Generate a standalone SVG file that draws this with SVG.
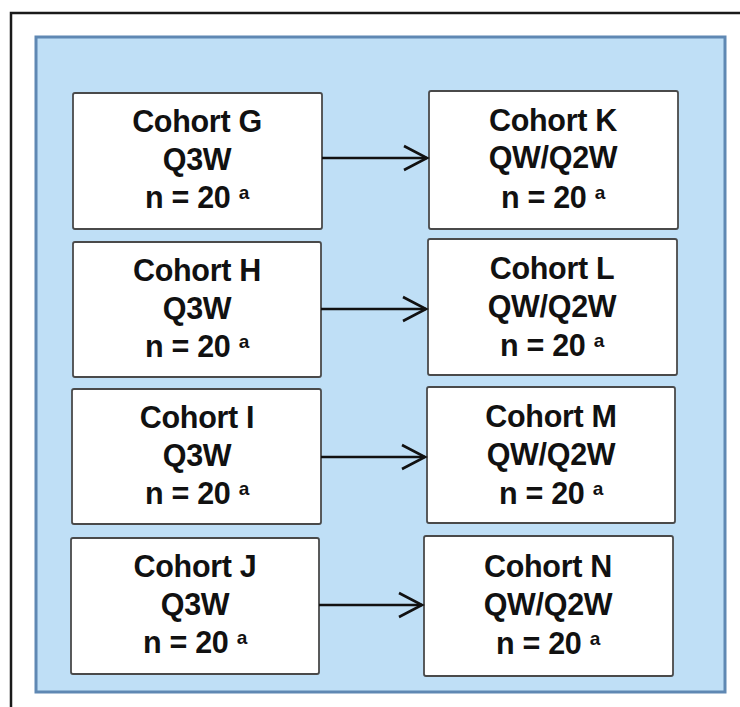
<svg xmlns="http://www.w3.org/2000/svg" width="740" height="707" viewBox="0 0 740 707">
  <style>
    .frame { fill: none; stroke: #1a1a1a; stroke-width: 2.5; }
    .panel { fill: #bfdff6; stroke: #5f88b3; stroke-width: 3; }
    .box { fill: #ffffff; stroke: #4a4a4a; stroke-width: 1.8; }
    .lbl { font-family: "Liberation Sans", Arial, sans-serif; font-weight: bold; font-size: 30.5px; fill: #111; text-anchor: middle; letter-spacing: -0.3px; }
    .sup { font-size: 19px; }
    .conn line, .conn path { fill: none; stroke: #111; stroke-width: 2.6; }
  </style>

  <!-- outer frame (top and left edges visible) -->
  <path class="frame" d="M11,707 L11,13 L740,13"/>

  <!-- light blue panel -->
  <rect class="panel" x="36" y="37" width="689" height="655"/>

  <!-- left column: Q3W cohorts -->
  <g id="cohort-g">
    <rect class="box" x="73" y="93" width="249" height="136" rx="2"/>
    <text class="lbl" x="197" y="132">Cohort G</text>
    <text class="lbl" x="197" y="170">Q3W</text>
    <text class="lbl" x="197" y="208">n = 20 <tspan class="sup" dy="-9">a</tspan></text>
  </g>
  <g id="cohort-h">
    <rect class="box" x="73" y="242" width="248" height="135" rx="2"/>
    <text class="lbl" x="197" y="281">Cohort H</text>
    <text class="lbl" x="197" y="319">Q3W</text>
    <text class="lbl" x="197" y="357">n = 20 <tspan class="sup" dy="-9">a</tspan></text>
  </g>
  <g id="cohort-i">
    <rect class="box" x="72" y="389" width="249" height="135" rx="2"/>
    <text class="lbl" x="197" y="428">Cohort I</text>
    <text class="lbl" x="197" y="466">Q3W</text>
    <text class="lbl" x="197" y="504">n = 20 <tspan class="sup" dy="-9">a</tspan></text>
  </g>
  <g id="cohort-j">
    <rect class="box" x="71" y="538" width="248" height="136" rx="2"/>
    <text class="lbl" x="195" y="577">Cohort J</text>
    <text class="lbl" x="195" y="615">Q3W</text>
    <text class="lbl" x="195" y="653">n = 20 <tspan class="sup" dy="-9">a</tspan></text>
  </g>

  <!-- right column: QW/Q2W cohorts -->
  <g id="cohort-k">
    <rect class="box" x="429" y="91" width="249" height="138" rx="2"/>
    <text class="lbl" x="553" y="131">Cohort K</text>
    <text class="lbl" x="553" y="168">QW/Q2W</text>
    <text class="lbl" x="553" y="208">n = 20 <tspan class="sup" dy="-9">a</tspan></text>
  </g>
  <g id="cohort-l">
    <rect class="box" x="428" y="239" width="249" height="136" rx="2"/>
    <text class="lbl" x="552" y="279">Cohort L</text>
    <text class="lbl" x="552" y="317">QW/Q2W</text>
    <text class="lbl" x="552" y="356">n = 20 <tspan class="sup" dy="-9">a</tspan></text>
  </g>
  <g id="cohort-m">
    <rect class="box" x="427" y="387" width="248" height="136" rx="2"/>
    <text class="lbl" x="551" y="427">Cohort M</text>
    <text class="lbl" x="551" y="465">QW/Q2W</text>
    <text class="lbl" x="551" y="504">n = 20 <tspan class="sup" dy="-9">a</tspan></text>
  </g>
  <g id="cohort-n">
    <rect class="box" x="424" y="536" width="249" height="140" rx="2"/>
    <text class="lbl" x="548" y="577">Cohort N</text>
    <text class="lbl" x="548" y="615">QW/Q2W</text>
    <text class="lbl" x="548" y="654">n = 20 <tspan class="sup" dy="-9">a</tspan></text>
  </g>

  <!-- connectors: each Q3W cohort leads to its QW/Q2W cohort -->
  <g id="connectors" class="conn">
    <line x1="322" y1="158" x2="427" y2="158"/>
    <path d="M404,146 L427,158 L404,170"/>
    <line x1="321" y1="309" x2="426" y2="309"/>
    <path d="M403,297 L426,309 L403,321"/>
    <line x1="321" y1="457" x2="425" y2="457"/>
    <path d="M402,445 L425,457 L402,469"/>
    <line x1="319" y1="605" x2="422" y2="605"/>
    <path d="M399,593 L422,605 L399,617"/>
  </g>
</svg>
